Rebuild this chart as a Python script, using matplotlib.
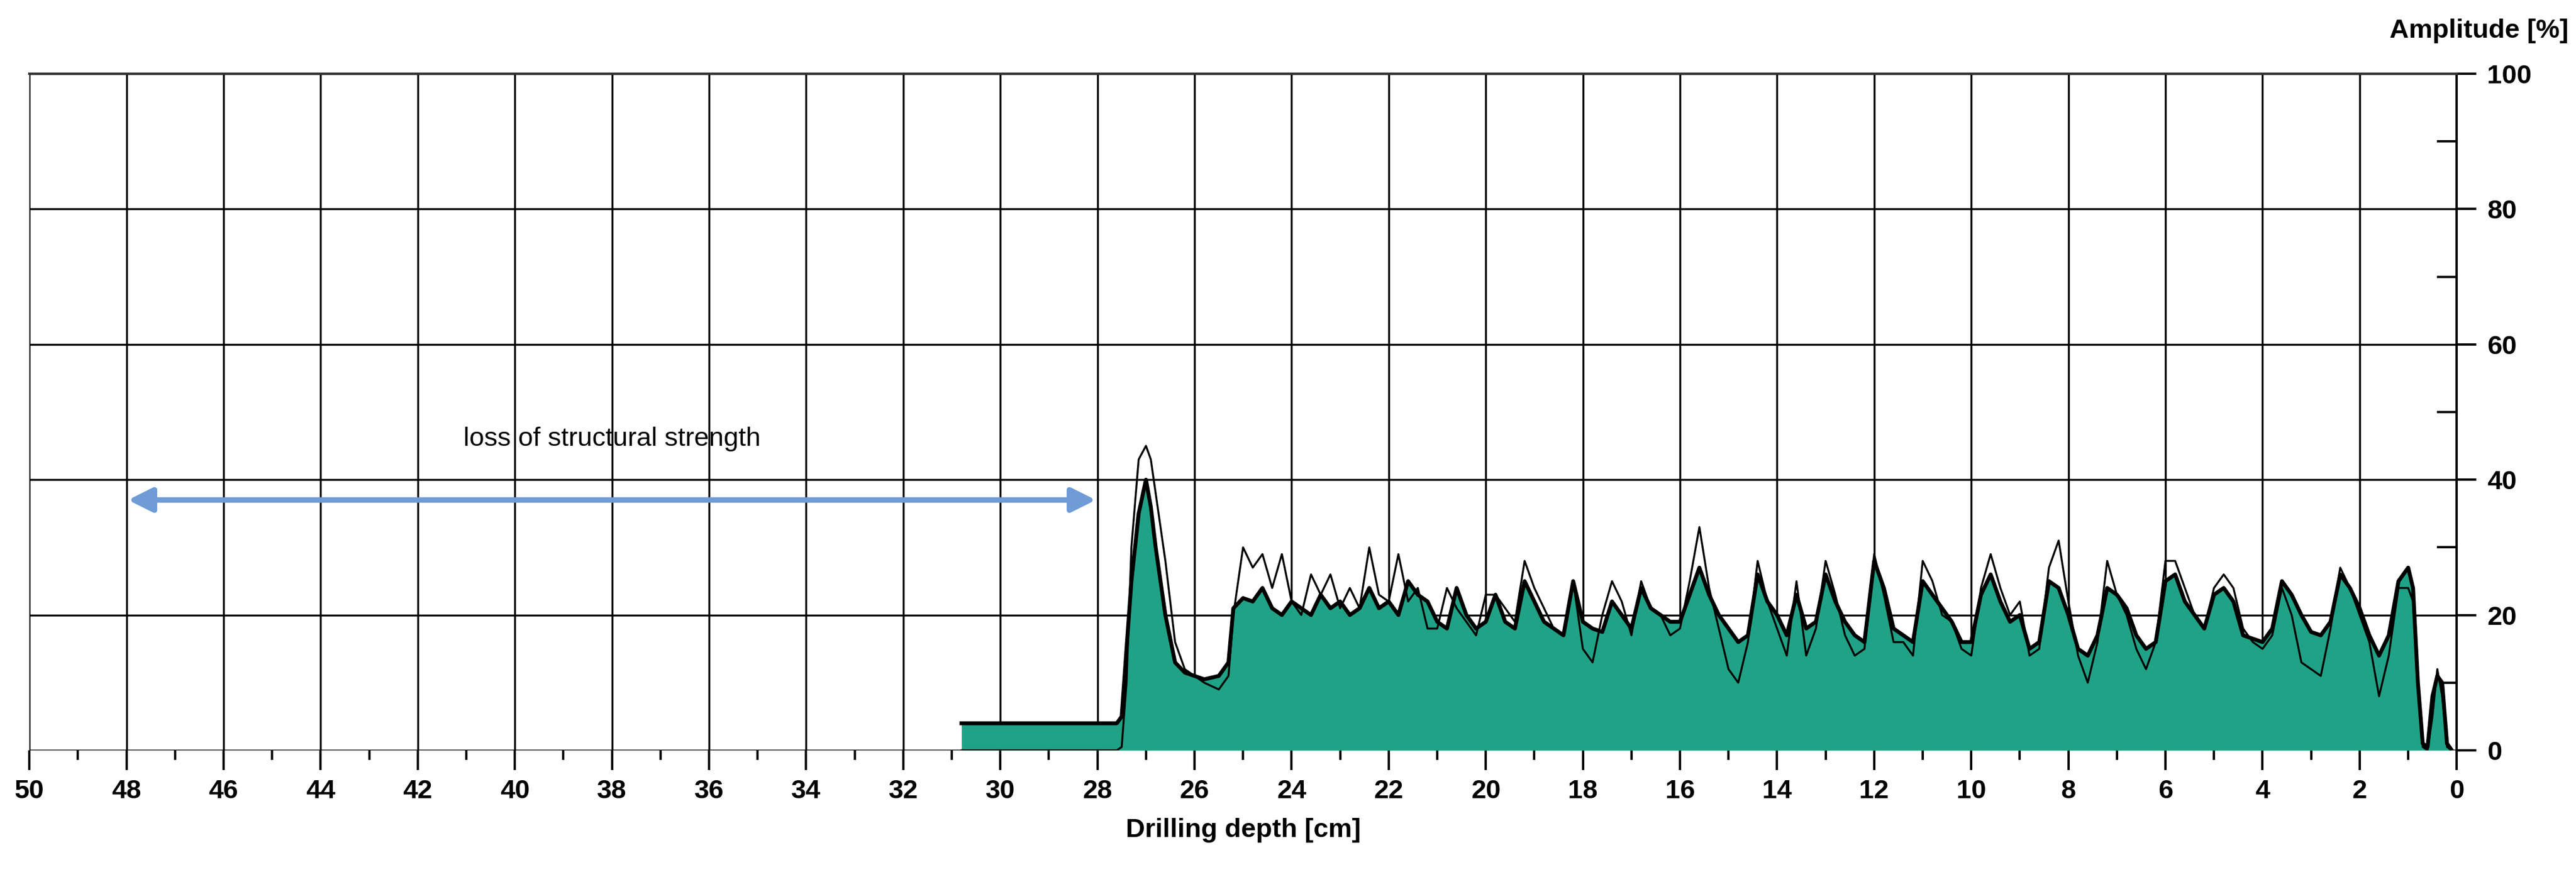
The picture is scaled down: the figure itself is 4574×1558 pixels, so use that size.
import matplotlib
matplotlib.use("Agg")
import matplotlib.pyplot as plt
import numpy as np

plt.rcParams['font.family'] = ['Liberation Sans', 'DejaVu Sans']

depth = [30.8, 27.6, 27.5, 27.4, 27.3, 27.15, 27.0, 26.9, 26.8, 26.6, 26.4, 26.2, 26.0, 25.8, 25.5, 25.3, 25.2,
         25.0, 24.8, 24.6, 24.4, 24.2, 24.0, 23.8, 23.6, 23.4, 23.2, 23.0, 22.8, 22.6, 22.4, 22.2, 22.0,
         21.8, 21.6, 21.4, 21.2, 21.0, 20.8, 20.6, 20.4, 20.2, 20.0, 19.8, 19.6, 19.4, 19.2, 19.0,
         18.8, 18.6, 18.4, 18.2, 18.0, 17.8, 17.6, 17.4, 17.2, 17.0, 16.8, 16.6, 16.4, 16.2, 16.0,
         15.8, 15.6, 15.4, 15.2, 15.0, 14.8, 14.6, 14.4, 14.2, 14.0, 13.8, 13.6, 13.4, 13.2, 13.0,
         12.8, 12.6, 12.4, 12.2, 12.0, 11.8, 11.6, 11.4, 11.2, 11.0, 10.8, 10.6, 10.4, 10.2, 10.0,
         9.8, 9.6, 9.4, 9.2, 9.0, 8.8, 8.6, 8.4, 8.2, 8.0, 7.8, 7.6, 7.4, 7.2, 7.0,
         6.8, 6.6, 6.4, 6.2, 6.0, 5.8, 5.6, 5.4, 5.2, 5.0, 4.8, 4.6, 4.4, 4.2, 4.0,
         3.8, 3.6, 3.4, 3.2, 3.0, 2.8, 2.6, 2.4, 2.2, 2.0, 1.8, 1.6, 1.4, 1.2, 1.0,
         0.9, 0.8, 0.7, 0.6, 0.5, 0.4, 0.3, 0.2, 0.1]

amp_fill = [4, 4, 5, 15, 25, 35, 40, 36, 30, 20, 13, 11.5, 11, 10.5, 11, 13, 21,
            22.5, 22, 24, 21, 20, 22, 21, 20, 23, 21, 22, 20, 21, 24, 21, 22,
            20, 25, 23, 22, 19, 18, 24, 20, 18, 19, 23, 19, 18, 25, 22,
            19, 18, 17, 25, 19, 18, 17.5, 22, 20, 18, 24, 21, 20, 19, 19,
            23, 27, 23, 20, 18, 16, 17, 26, 22, 20, 17, 23, 18, 19, 26,
            22, 19, 17, 16, 28, 24, 18, 17, 16, 25, 23, 21, 19, 16, 16,
            23, 26, 22, 19, 20, 15, 16, 25, 24, 20, 15, 14, 17, 24, 23,
            21, 17, 15, 16, 25, 26, 22, 20, 18, 23, 24, 22, 17, 16.5, 16,
            18, 25, 23, 20, 17.5, 17, 19, 26, 24, 21, 17, 14, 17, 25, 27,
            24, 10, 1, 0.5, 8, 11, 10, 1, 0]

amp_thin = [0, 0, 0.5, 10, 30, 43, 45, 43, 38, 28, 16, 12, 11, 10, 9, 11, 20,
            30, 27, 29, 24, 29, 22, 20, 26, 23, 26, 21, 24, 21, 30, 23, 22,
            29, 22, 24, 18, 18, 24, 21, 19, 17, 23, 23, 21, 19, 28, 24,
            21, 18, 17, 25, 15, 13, 20, 25, 22, 17, 25, 21, 20, 17, 18,
            25, 33, 24, 18, 12, 10, 16, 28, 22, 18, 14, 25, 14, 18, 28,
            23, 17, 14, 15, 29, 23, 16, 16, 14, 28, 25, 20, 19, 15, 14,
            24, 29, 24, 20, 22, 14, 15, 27, 31, 22, 14, 10, 16, 28, 23,
            20, 15, 12, 16, 28, 28, 24, 20, 18, 24, 26, 24, 18, 16, 15,
            17, 24, 20, 13, 12, 11, 18, 27, 24, 20, 16, 8, 14, 24, 24,
            22, 10, 0.5, 0, 5, 12, 8, 0.5, 0]

fig = plt.figure(figsize=(45.74, 15.58), dpi=100)
ax = fig.add_axes([0.0114, 0.1444, 0.9423, 0.7716])

ax.fill_between(depth, amp_fill, 0, color='#20a286', linewidth=0, zorder=2)
ax.plot(depth, amp_thin, color='black', lw=2.5, zorder=3)
ax.plot(depth, amp_fill, color='black', lw=5, zorder=4)

ax.set_xlim(50, 0)
ax.set_ylim(0, 100)
ax.set_xticks(np.arange(0, 51, 2))
ax.set_xticks(np.arange(1, 50, 2), minor=True)
ax.set_yticks(np.arange(0, 101, 20))
ax.set_yticks(np.arange(10, 100, 20), minor=True)
ax.grid(True, which='major', color='black', lw=2.5, zorder=1)
ax.set_axisbelow(True)
ax.yaxis.tick_right()
ax.yaxis.set_label_position('right')
ax.tick_params(axis='x', which='major', direction='out', length=25, width=3, labelsize=34, pad=12)
ax.tick_params(axis='x', which='minor', direction='out', length=12, width=3)
ax.tick_params(axis='y', which='major', direction='out', length=25, width=3, labelsize=34, pad=14)
ax.tick_params(axis='y', which='minor', direction='in', length=25, width=3)
for lbl in ax.get_xticklabels() + ax.get_yticklabels():
    lbl.set_fontweight('bold')
for s in ['left', 'bottom']:
    ax.spines[s].set_visible(False)
ax.spines['top'].set_linewidth(3)
ax.spines['right'].set_linewidth(3)
ax.spines['top'].set_color('#333333')

ax.set_xlabel('Drilling depth [cm]', fontsize=34, fontweight='bold', labelpad=18)
fig.text(0.997, 0.965, 'Amplitude [%]', fontsize=34, fontweight='bold', ha='right', va='center')

ax.annotate('', xy=(48, 37), xytext=(28, 37),
            arrowprops=dict(arrowstyle='<|-|>', color='#6f9bd6', lw=7, mutation_scale=65))
ax.text(38, 46, 'loss of structural strength', fontsize=34, ha='center', va='center')

fig.savefig('out.png', dpi=100)
